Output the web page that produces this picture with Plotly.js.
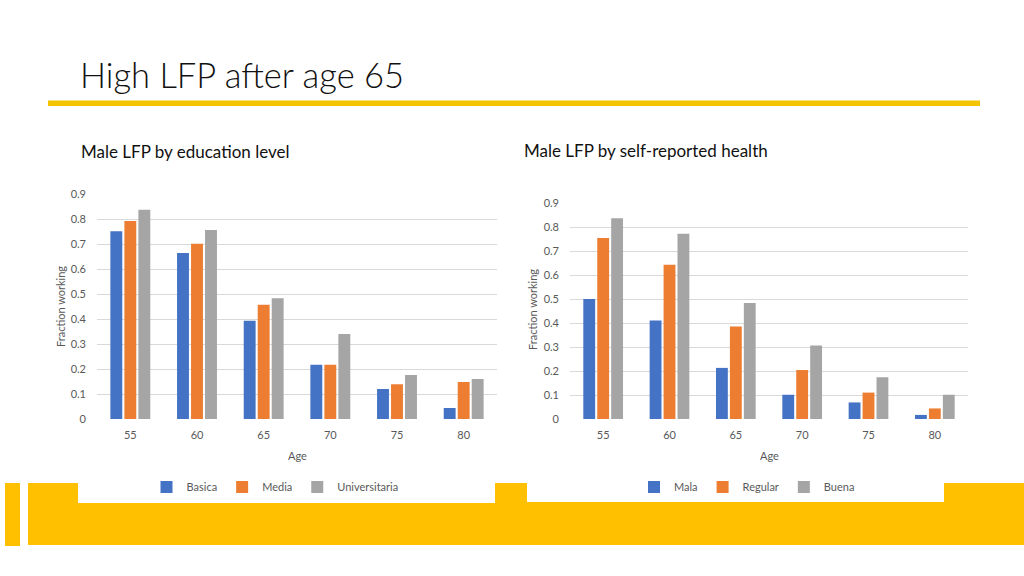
<!DOCTYPE html>
<html>
<head>
<meta charset="utf-8">
<script src="https://cdn.plot.ly/plotly-3.0.1.min.js"></script>
<style>html,body{margin:0;padding:0;background:#fff;}#chart{width:1024px;height:576px;}</style>
</head>
<body>
<div id="chart"></div>
<script>
const ages = ['55', '60', '65', '70', '75', '80'];
const eduNames = ['Basica', 'Media', 'Universitaria'];
const basica = [0.751, 0.664, 0.393, 0.217, 0.120, 0.044];
const media = [0.792, 0.701, 0.457, 0.217, 0.139, 0.148];
const universitaria = [0.837, 0.756, 0.483, 0.340, 0.176, 0.160];
const healthNames = ['Mala', 'Regular', 'Buena'];
const mala = [0.500, 0.410, 0.213, 0.101, 0.069, 0.017];
const regular = [0.754, 0.643, 0.385, 0.204, 0.110, 0.044];
const buena = [0.836, 0.772, 0.483, 0.306, 0.174, 0.101];
const yTicks = [0, 0.1, 0.2, 0.3, 0.4, 0.5, 0.6, 0.7, 0.8, 0.9];
const yTickText = ['0', '0.1', '0.2', '0.3', '0.4', '0.5', '0.6', '0.7', '0.8', '0.9'];

const colors = ['#4472C4', '#ED7D31', '#A5A5A5'];
const W = 1024, H = 576;
const px = v => v / W, py = v => 1 - v / H;

const eduSeries = [basica, media, universitaria];
const healthSeries = [mala, regular, buena];
const traces = [];
eduSeries.forEach((s, i) => traces.push({
  type: 'bar', x: ages, y: s, name: eduNames[i], marker: {color: colors[i]},
  xaxis: 'x', yaxis: 'y', legend: 'legend', hoverinfo: 'x+y+name'
}));
healthSeries.forEach((s, i) => traces.push({
  type: 'bar', x: ages, y: s, name: healthNames[i], marker: {color: colors[i]},
  xaxis: 'x2', yaxis: 'y2', legend: 'legend2', hoverinfo: 'x+y+name'
}));

const fam = 'Lato, "Open Sans", sans-serif';
const tickFont = {family: fam, size: 11, color: '#595959'};
const xCommon = {type: 'category', showgrid: false, zeroline: false, showline: false, ticks: '',
  tickfont: tickFont, ticklabelstandoff: 8, fixedrange: true};
const yCommon = {range: [0, 0.9], tickvals: yTicks, ticktext: yTickText, showgrid: true,
  gridcolor: '#D9D9D9', gridwidth: 1, zeroline: false, showline: false, ticks: '',
  tickfont: tickFont, ticklabelstandoff: 10, fixedrange: true};

const shapes = [
  {type: 'rect', xref: 'paper', yref: 'paper', x0: px(48), x1: px(980), y0: py(100.5), y1: py(106),
   fillcolor: '#F5C400', line: {width: 0}, layer: 'below'},
  {type: 'rect', xref: 'paper', yref: 'paper', x0: px(5), x1: px(20), y0: py(483), y1: py(546),
   fillcolor: '#FFC000', line: {width: 0}, layer: 'below'},
  {type: 'rect', xref: 'paper', yref: 'paper', x0: px(28), x1: px(1024), y0: py(483), y1: py(545),
   fillcolor: '#FFC000', line: {width: 0}, layer: 'below'},
  {type: 'rect', xref: 'paper', yref: 'paper', x0: px(78), x1: px(495), y0: py(470), y1: py(503),
   fillcolor: '#FFFFFF', line: {width: 0}, layer: 'below'},
  {type: 'rect', xref: 'paper', yref: 'paper', x0: px(527), x1: px(944), y0: py(470), y1: py(502),
   fillcolor: '#FFFFFF', line: {width: 0}, layer: 'below'}
];

const labelFont = {family: fam, size: 11, color: '#595959'};
const annotations = [
  {text: 'High LFP after age 65', xref: 'paper', yref: 'paper', x: px(78), y: py(74),
   xanchor: 'left', yanchor: 'middle', showarrow: false,
   font: {family: fam, size: 34.5, color: '#111111', weight: 300}},
  {text: 'Male LFP by education level', xref: 'paper', yref: 'paper', x: px(79), y: py(152),
   xanchor: 'left', yanchor: 'middle', showarrow: false,
   font: {family: fam, size: 17, color: '#111111'}},
  {text: 'Male LFP by self-reported health', xref: 'paper', yref: 'paper', x: px(522), y: py(150),
   xanchor: 'left', yanchor: 'middle', showarrow: false,
   font: {family: fam, size: 17, color: '#111111'}},
  {text: 'Age', xref: 'paper', yref: 'paper', x: px(297), y: py(455), xanchor: 'center', yanchor: 'middle',
   showarrow: false, font: labelFont},
  {text: 'Age', xref: 'paper', yref: 'paper', x: px(769), y: py(455), xanchor: 'center', yanchor: 'middle',
   showarrow: false, font: labelFont},
  {text: 'Fraction working', xref: 'paper', yref: 'paper', x: px(60), y: py(307), xanchor: 'center', yanchor: 'middle',
   textangle: -90, showarrow: false, font: {family: fam, size: 11, color: '#595959'}},
  {text: 'Fraction working', xref: 'paper', yref: 'paper', x: px(532), y: py(310), xanchor: 'center', yanchor: 'middle',
   textangle: -90, showarrow: false, font: {family: fam, size: 11, color: '#595959'}}
];

const legendCommon = {orientation: 'h', xref: 'paper', yref: 'paper', yanchor: 'middle', xanchor: 'center',
  font: {family: fam, size: 11, color: '#595959'},
  bgcolor: 'rgba(0,0,0,0)', itemwidth: 30, tracegroupgap: 0, itemclick: false, itemdoubleclick: false};

const layout = {
  width: W, height: H, margin: {l: 0, r: 0, t: 0, b: 0},
  paper_bgcolor: '#FFFFFF', plot_bgcolor: 'rgba(0,0,0,0)',
  barmode: 'group', bargap: 0.37, bargroupgap: 0.15,
  showlegend: true,
  xaxis: Object.assign({}, xCommon, {domain: [px(97), px(497)], anchor: 'y'}),
  yaxis: Object.assign({}, yCommon, {domain: [py(419), py(194)], anchor: 'x'}),
  xaxis2: Object.assign({}, xCommon, {domain: [px(570), px(968)], anchor: 'y2'}),
  yaxis2: Object.assign({}, yCommon, {domain: [py(419), py(203)], anchor: 'x2'}),
  legend: Object.assign({}, legendCommon, {x: px(275), y: py(487)}),
  legend2: Object.assign({}, legendCommon, {x: px(747), y: py(487)}),
  shapes: shapes,
  annotations: annotations
};

Plotly.newPlot('chart', traces, layout, {displayModeBar: false});
</script>
</body>
</html>
